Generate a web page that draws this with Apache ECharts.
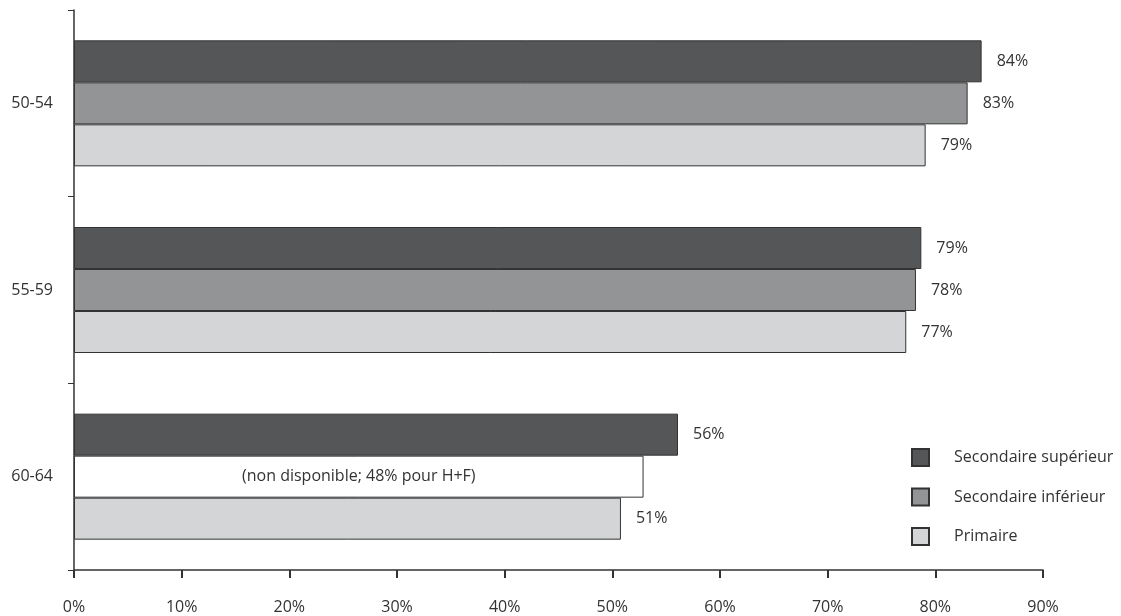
<!DOCTYPE html>
<html>
<head>
<meta charset="utf-8">
<script src="https://cdn.jsdelivr.net/npm/echarts@6/dist/echarts.min.js"></script>
<style>html,body{margin:0;padding:0;background:#fff;}#c{width:1121px;height:616px;}</style>
</head>
<body>
<div id="c"></div>
<script>
const categories = ['50-54', '55-59', '60-64'];
const seriesNames = ['Secondaire supérieur', 'Secondaire inférieur', 'Primaire'];
const supValues = [84.3, 78.7, 56.1];
const infValues = [83.0, 78.2, 52.9];
const primValues = [79.1, 77.3, 50.8];
const naIndex = 2;
const naText = '(non disponible; 48% pour H+F)';
const xTicks = [0, 10, 20, 30, 40, 50, 60, 70, 80, 90];

const FONT = '"Open Sans", sans-serif';
const FS = 16;
const colors = ['#555658', '#939496', '#d4d5d6'];
const labelCfg = {
  show: true, position: 'right', distance: 15,
  color: '#333', fontSize: FS, fontFamily: FONT,
  formatter: p => Math.round(p.value) + '%'
};
function mk(name, vals, color) {
  return {
    name: name, type: 'bar', barWidth: 42, barGap: '0%',
    itemStyle: { color: color, borderColor: '#333', borderWidth: 1 },
    label: labelCfg,
    data: vals.map(v => v)
  };
}
const s1 = mk(seriesNames[0], supValues, colors[0]);
const s2 = mk(seriesNames[1], infValues, colors[1]);
const s3 = mk(seriesNames[2], primValues, colors[2]);
s2.data[naIndex] = {
  value: infValues[naIndex],
  itemStyle: { color: '#ffffff', borderColor: '#333', borderWidth: 1 },
  label: { show: true, position: 'inside', color: '#333', fontSize: FS, fontFamily: FONT, formatter: naText }
};

const chart = echarts.init(document.getElementById('c'));
chart.setOption({
  animation: false,
  backgroundColor: '#fff',
  grid: { left: 74, right: 78, top: 10, bottom: 46, containLabel: false },
  legend: {
    orient: 'vertical', left: 906, top: 443,
    itemWidth: 17, itemHeight: 17, itemGap: 20.5,
    icon: 'rect',
    textStyle: { color: '#333', fontSize: FS, lineHeight: 17, fontFamily: FONT, padding: [0, 0, 0, 20] },
    data: seriesNames
  },
  xAxis: {
    type: 'value', min: xTicks[0], max: xTicks[xTicks.length - 1], interval: 10,
    axisLine: { show: true, lineStyle: { color: '#333', width: 1.5 } },
    axisTick: { show: true, length: 8, inside: false, lineStyle: { color: '#333', width: 2 } },
    splitLine: { show: false },
    axisLabel: { margin: 29, color: '#333', fontSize: FS, fontFamily: FONT, formatter: '{value}%' }
  },
  yAxis: {
    type: 'category', data: categories, inverse: true,
    axisLine: { show: true, lineStyle: { color: '#333', width: 1.5 } },
    axisTick: { show: true, length: 6, inside: false, lineStyle: { color: '#333' } },
    axisLabel: { margin: 21, color: '#333', fontSize: FS, fontFamily: FONT }
  },
  series: [s1, s2, s3]
});
</script>
</body>
</html>
